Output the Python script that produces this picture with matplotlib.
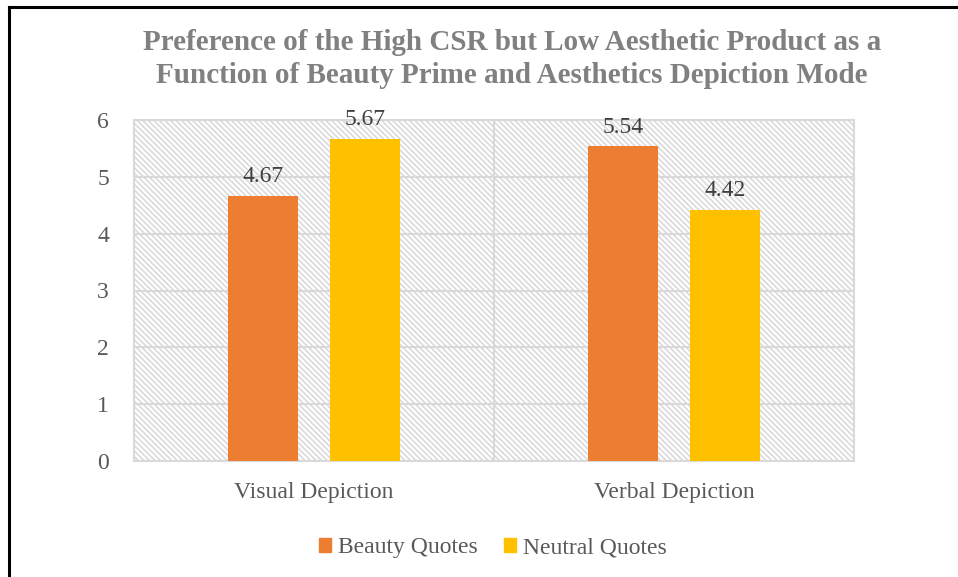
import numpy as np
import matplotlib.pyplot as plt
from matplotlib.patches import Rectangle
from matplotlib.lines import Line2D

plt.rcParams['font.family'] = ['Liberation Serif', 'DejaVu Serif']
plt.rcParams['hatch.linewidth'] = 1.2

categories = ['Visual Depiction', 'Verbal Depiction']
series_names = ['Beauty Quotes', 'Neutral Quotes']
beauty = [4.67, 5.54]
neutral = [5.67, 4.42]
colors = ['#ED7D31', '#FFC000']
yticks = [0, 1, 2, 3, 4, 5, 6]

grid_col = '#d9d9d9'
text_col = '#595959'

fig = plt.figure(figsize=(9.58, 5.77), dpi=100)
ax = fig.add_axes([134 / 958, 1 - 461 / 577, 720 / 958, 341 / 577])

# hatched plot area, ~8 px between diagonals
ax.add_patch(Rectangle((0, 0), 1, 1, transform=ax.transAxes, facecolor='white',
                       edgecolor='#dadada', hatch=chr(92) * 6, linewidth=0, zorder=0))

x = np.arange(len(categories))
w = 0.195
off = 0.141
for i, (vals, name) in enumerate(zip([beauty, neutral], series_names)):
    pos = x + (off if i else -off)
    bars = ax.bar(pos, vals, width=w, color=colors[i], zorder=3, label=name)
    for b, v in zip(bars, vals):
        ax.text(b.get_x() + b.get_width() / 2, v + 0.15, f'{v:.2f}', ha='center',
                va='bottom', fontsize=17, color='#404040', zorder=4)

ax.set_xlim(-0.5, 1.5)
ax.set_ylim(0, 6)
ax.set_yticks(yticks)
ax.set_xticks(x)
ax.set_xticklabels(categories)
ax.tick_params(axis='both', length=0, labelsize=17, labelcolor=text_col)
ax.tick_params(axis='y', pad=18)
ax.tick_params(axis='x', pad=15)
ax.grid(axis='y', color=grid_col, linewidth=1.5, zorder=1)
ax.set_axisbelow(True)
ax.axvline(0.5, color=grid_col, linewidth=1.5, zorder=1)
for s in ax.spines.values():
    s.set_color(grid_col)
    s.set_linewidth(1.5)

fig.text(512 / 958, 1 - 59 / 577, 'Preference of the High CSR but Low Aesthetic Product as a\n'
         'Function of Beauty Prime and Aesthetics Depiction Mode',
         ha='center', va='center', fontsize=21, fontweight='bold', color='#808080',
         linespacing=1.28)

handles = [Rectangle((0, 0), 1, 1, color=c) for c in colors]
fig.legend(handles, series_names, loc='center', bbox_to_anchor=(493 / 958, 1 - 548 / 577),
           ncol=2, frameon=False, fontsize=17, handlelength=0.5, handleheight=0.5,
           handletextpad=0.3, columnspacing=1.1, labelcolor=text_col)

# figure border (left and top only)
fig.add_artist(Line2D([9 / 958, 9 / 958], [0, 1 - 7 / 577], color='black', linewidth=2.2,
                      transform=fig.transFigure))
fig.add_artist(Line2D([9 / 958, 1], [1 - 7 / 577, 1 - 7 / 577], color='black', linewidth=2.2,
                      transform=fig.transFigure))

fig.savefig('out.png', dpi=100)
